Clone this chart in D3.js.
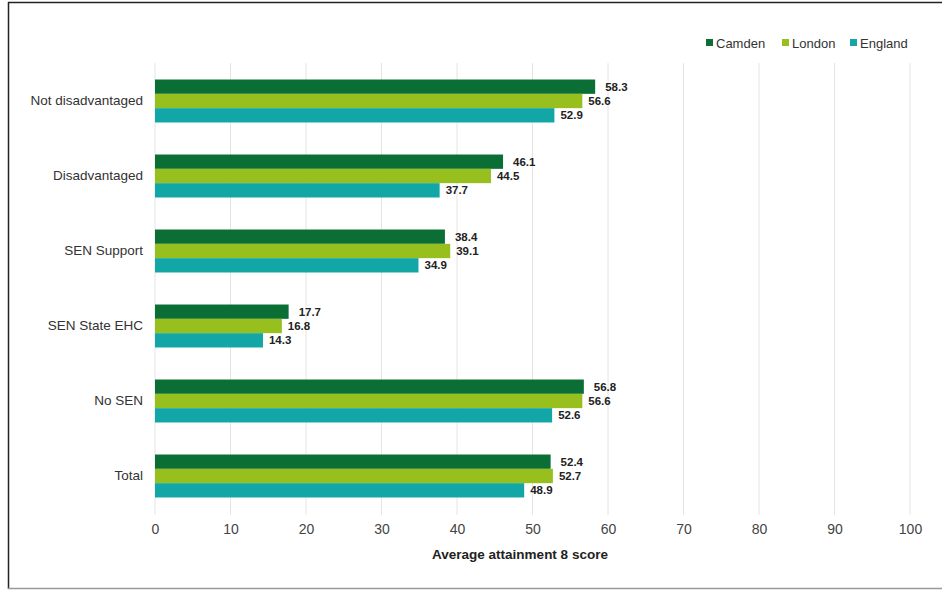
<!DOCTYPE html>
<html><head><meta charset="utf-8">
<script src="https://cdn.jsdelivr.net/npm/d3@7"></script>
<style>body{margin:0;background:#fff;} svg{display:block;font-family:"Liberation Sans",Arial,sans-serif;}</style>
</head><body><svg id="c" width="942" height="590"></svg>
<script>
const categories = ["Not disadvantaged","Disadvantaged","SEN Support","SEN State EHC","No SEN","Total"];
const seriesNames = ["Camden","London","England"];
const camden = [58.3,46.1,38.4,17.7,56.8,52.4];
const london = [56.6,44.5,39.1,16.8,56.6,52.7];
const england = [52.9,37.7,34.9,14.3,52.6,48.9];
const xTicks = [0,10,20,30,40,50,60,70,80,90,100];
const colors = ["#0b6e35","#97bf1e","#12a7a6"];
const series = [camden, london, england];

const svg = d3.select("#c");
// frame
svg.append("line").attr("x1",8).attr("x2",942).attr("y1",2.5).attr("y2",2.5).attr("stroke","#222").attr("stroke-width",1.5);
svg.append("line").attr("x1",8.5).attr("x2",8.5).attr("y1",2).attr("y2",589).attr("stroke","#222").attr("stroke-width",1.5);
svg.append("line").attr("x1",8).attr("x2",942).attr("y1",588.5).attr("y2",588.5).attr("stroke","#999").attr("stroke-width",1.5);

const x = d3.scaleLinear().domain([0,100]).range([155,910]);
const y = d3.scaleBand().domain(categories).range([63.5,513.5]).paddingInner(0.427).paddingOuter(0.2135);
const y1 = d3.scaleBand().domain(seriesNames).range([0,y.bandwidth()]);

// gridlines
svg.append("g").selectAll("line").data(xTicks).join("line")
  .attr("x1",d=>x(d)).attr("x2",d=>x(d)).attr("y1",63).attr("y2",515)
  .attr("stroke","#e4e4e4").attr("stroke-width",1);

// axis
const xAxis = d3.axisBottom(x).tickValues(xTicks).tickSize(0).tickPadding(0);
const gx = svg.append("g").attr("transform","translate(0,524)").call(xAxis);
gx.select(".domain").remove();
gx.selectAll("text").attr("font-size",14).attr("fill","#444").attr("font-family","Liberation Sans, Arial, sans-serif").attr("dy","0.72em");

svg.append("text").attr("x",520).attr("y",559).attr("text-anchor","middle")
  .attr("font-size",13.5).attr("font-weight","bold").attr("fill","#222").text("Average attainment 8 score");

const yAxis = d3.axisLeft(y).tickSize(0).tickPadding(12);
const gy = svg.append("g").attr("transform","translate(155,0)").call(yAxis);
gy.select(".domain").remove();
gy.selectAll("text").attr("font-size",13.5).attr("fill","#333").attr("font-family","Liberation Sans, Arial, sans-serif");

// bars
seriesNames.forEach((s,si)=>{
  const g = svg.append("g");
  g.selectAll("rect").data(categories).join("rect")
    .attr("x",x(0)).attr("y",(c)=>y(c)+y1(s))
    .attr("width",(c,i)=>x(series[si][i])-x(0))
    .attr("height",y1.bandwidth())
    .attr("fill",colors[si]);
  g.selectAll("text").data(categories).join("text")
    .attr("x",(c,i)=>x(series[si][i])+ (si===0?10:6))
    .attr("y",(c)=>y(c)+y1(s)+y1.bandwidth()/2)
    .attr("dy","0.35em").attr("font-size",11.5).attr("font-weight","bold").attr("fill","#222")
    .text((c,i)=>series[si][i].toFixed(1));
});

// legend
const legX = [706,782,850];
seriesNames.forEach((s,i)=>{
  svg.append("rect").attr("x",legX[i]).attr("y",39).attr("width",7).attr("height",7).attr("fill",colors[i]);
  svg.append("text").attr("x",legX[i]+10).attr("y",43).attr("dy","0.35em").attr("font-size",13).attr("fill","#333").text(s);
});
</script></body></html>
